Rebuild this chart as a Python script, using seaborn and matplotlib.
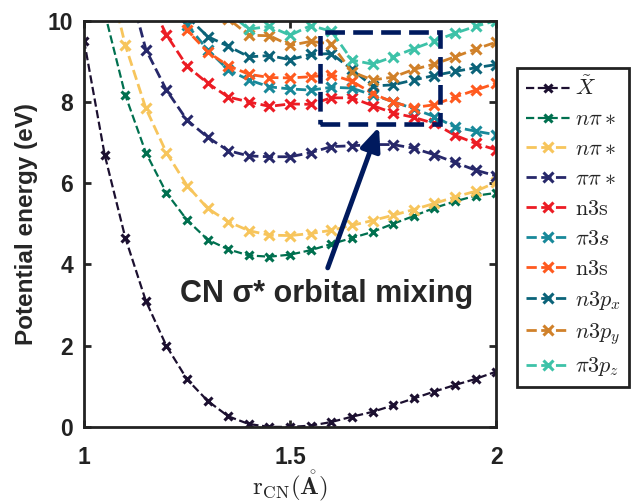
import numpy as np
import pandas as pd
import matplotlib
matplotlib.use('Agg')
import matplotlib.pyplot as plt
import matplotlib.patches as patches
import seaborn as sns

# C-N bond length grid (Angstrom)
r_cn = [1.00, 1.05, 1.10, 1.15, 1.20, 1.25, 1.30, 1.35, 1.40, 1.45, 1.50,
        1.55, 1.60, 1.65, 1.70, 1.75, 1.80, 1.85, 1.90, 1.95, 2.00]

nan = np.nan
e_ground = [9.51, 6.70, 4.66, 3.10, 1.99, 1.17, 0.64, 0.26, 0.07, 0.00, 0.00,
            0.03, 0.12, 0.25, 0.37, 0.53, 0.70, 0.87, 1.03, 1.18, 1.36]
e_npi_1 = [nan, 10.2, 8.17, 6.75, 5.76, 5.09, 4.61, 4.37, 4.22, 4.19, 4.24,
           4.35, 4.50, 4.65, 4.80, 5.00, 5.19, 5.39, 5.55, 5.69, 5.76]
e_npi_2 = [nan, 11.5, 9.40, 7.84, 6.75, 5.94, 5.38, 5.05, 4.83, 4.72, 4.71,
           4.76, 4.84, 4.96, 5.08, 5.21, 5.35, 5.50, 5.66, 5.80, 6.02]
e_pipi = [nan, nan, 11.2, 9.29, 8.29, 7.55, 7.13, 6.80, 6.67, 6.65, 6.65,
          6.75, 6.90, 6.92, 6.95, 6.95, 6.86, 6.70, 6.51, 6.32, 6.18]
e_n3s_1 = [nan, nan, nan, 10.7, 9.65, 8.88, 8.46, 8.12, 8.00, 7.89, 7.95,
           7.94, 8.10, 8.10, 7.91, 7.73, 7.62, 7.47, 7.18, 6.98, 6.82]
e_pi3s = [nan, nan, nan, nan, nan, 9.90, 9.28, 8.79, 8.54, 8.37, 8.32,
          8.29, 8.36, 8.34, 8.17, 8.01, 7.83, 7.64, 7.38, 7.28, 7.19]
e_n3s_2 = [nan, nan, nan, nan, 10.66, 9.76, 9.23, 8.89, 8.68, 8.60, 8.59,
           8.62, 8.67, 8.51, 8.21, 7.99, 7.86, 7.93, 8.12, 8.29, 8.46]
e_n3px = [nan, nan, nan, nan, nan, 10.1, 9.61, 9.37, 9.11, 9.14, 9.04,
          9.17, 9.19, 8.80, 8.39, 8.42, 8.54, 8.65, 8.75, 8.84, 8.92]
e_n3py = [nan, nan, nan, nan, nan, nan, 10.8, 10.05, 9.64, 9.63, 9.39,
          9.49, 9.43, 8.74, 8.54, 8.61, 8.80, 8.93, 9.11, 9.30, 9.47]
e_pi3pz = [nan, nan, nan, nan, nan, nan, 10.9, 10.2, 9.79, 9.86, 9.64,
           9.88, 9.74, 9.03, 8.93, 9.11, 9.31, 9.50, 9.69, 9.86, 10.0]

labels = [r'$\tilde{X}$', r'$n\pi*$', r'$n\pi*$', r'$\pi\pi*$', r'$\mathrm{n3s}$',
          r'$\pi3s$', r'$\mathrm{n3s}$', r'$n3p_x$', r'$n3p_y$', r'$\pi3p_z$']
colors = ['#1c1030', '#00704f', '#f7c55c', '#27286a', '#ec1c24',
          '#18899a', '#ff5a1f', '#0b6379', '#d0812a', '#3dc2a8']
series = [e_ground, e_npi_1, e_npi_2, e_pipi, e_n3s_1,
          e_pi3s, e_n3s_2, e_n3px, e_n3py, e_pi3pz]

navy = '#001a5e'

sns.set_style('ticks')
plt.rcParams['font.family'] = ['Liberation Sans', 'DejaVu Sans']
plt.rcParams['mathtext.fontset'] = 'cm'

fig = plt.figure(figsize=(6.32, 5.04), dpi=100)
ax = fig.add_axes([0.133, 0.153, 0.652, 0.806])

for vals, lab, col in zip(series, labels, colors):
    df = pd.DataFrame({'r': r_cn, 'E': vals}).dropna()
    thin = col in ('#1c1030', '#00704f')
    sns.lineplot(data=df, x='r', y='E', ax=ax, color=col, label=lab,
                 linestyle='--', lw=1.6 if thin else 2.0, marker='x',
                 markersize=6 if thin else 7, markeredgewidth=2.2,
                 markeredgecolor=col)

ax.set_xlim(1, 2)
ax.set_ylim(0, 10)
ax.set_xticks([1, 1.5, 2])
ax.set_xticklabels(['1', '1.5', '2'])
ax.set_yticks([0, 2, 4, 6, 8, 10])
ax.tick_params(direction='in', top=True, right=True, length=5, width=2,
               labelsize=16.5)
ax.tick_params(axis='y', pad=8)
ax.tick_params(axis='x', pad=14)
for lbl in ax.get_xticklabels() + ax.get_yticklabels():
    lbl.set_fontweight('bold')
    lbl.set_color('#222222')
for sp in ax.spines.values():
    sp.set_linewidth(2)
    sp.set_color('#222222')

ax.set_ylabel('Potential energy (eV)', fontsize=17.5, fontweight='bold', labelpad=7)
ax.set_xlabel(r'$\mathrm{r}_{\mathrm{CN}}(\mathring{\mathbf{A}})$', fontsize=18, labelpad=-1)

# highlighted crossing region
box = patches.Rectangle((1.573, 7.45), 0.291, 2.26, fill=False, edgecolor=navy,
                        lw=3.3, ls=(0, (4.3, 1.8)), zorder=5)
ax.add_patch(box)
ax.annotate('', xy=(1.718, 7.45), xytext=(1.589, 3.85),
            arrowprops=dict(arrowstyle='-|>,head_width=0.3,head_length=0.7',
                            mutation_scale=20, lw=3.5, color=navy), zorder=6)
ax.text(1.589, 3.27, r'CN σ* orbital mixing', fontsize=22, fontweight='bold',
        ha='center', va='center')

ax.legend(loc='upper left', bbox_to_anchor=(0.818, 0.865), bbox_transform=fig.transFigure,
          fontsize=16, frameon=True, fancybox=False, edgecolor='#222222',
          framealpha=1, labelspacing=0.4, handlelength=2.0, handletextpad=0.2,
          borderpad=0.4, borderaxespad=0)
ax.get_legend().get_frame().set_linewidth(2)

fig.savefig('out.png', dpi=100)
